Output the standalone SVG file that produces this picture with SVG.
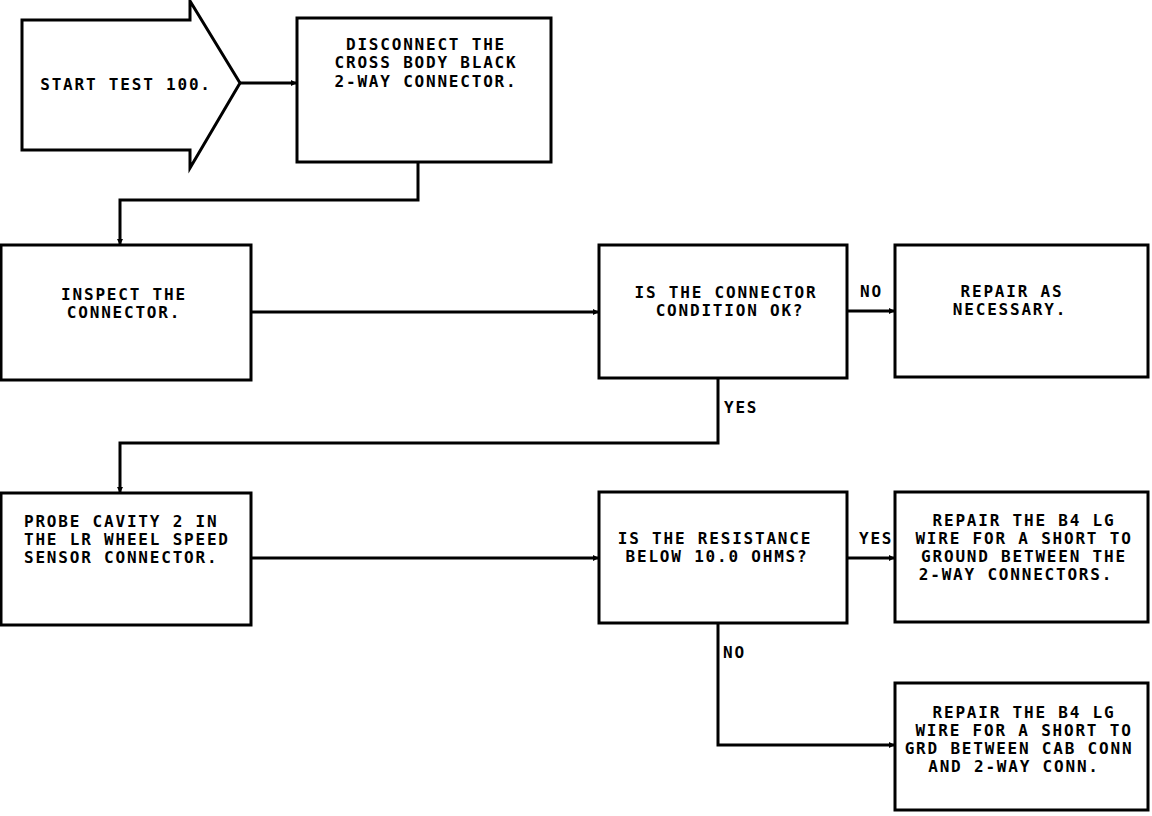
<svg xmlns="http://www.w3.org/2000/svg" width="1152" height="816" viewBox="0 0 1152 816">
<style>
.box{fill:#fff;stroke:#000;stroke-width:3}
.ln{fill:none;stroke:#000;stroke-width:3;stroke-linejoin:miter}
text{font-family:"DejaVu Sans Mono","Liberation Mono",monospace;font-size:16px;font-weight:bold;letter-spacing:1.8px;fill:#000}
.c{text-anchor:middle}
</style>
<defs>
<marker id="ah" markerWidth="6" markerHeight="6" refX="6" refY="3" orient="auto" markerUnits="userSpaceOnUse">
<path d="M0,0 L6,3 L0,6 Z" fill="#000"/>
</marker>
</defs>
<rect width="1152" height="816" fill="#fff"/>
<g id="connectors">
<path class="ln" d="M240,83 H297" marker-end="url(#ah)"/>
<path class="ln" d="M418,162 V200 H120 V245" marker-end="url(#ah)"/>
<path class="ln" d="M251,312 H599" marker-end="url(#ah)"/>
<path class="ln" d="M847,311 H895" marker-end="url(#ah)"/>
<path class="ln" d="M718,378 V443 H120 V493" marker-end="url(#ah)"/>
<path class="ln" d="M251,558 H599" marker-end="url(#ah)"/>
<path class="ln" d="M847,558 H895" marker-end="url(#ah)"/>
<path class="ln" d="M718,623 V745 H895" marker-end="url(#ah)"/>
<text x="860" y="297">NO</text>
<text x="724" y="413">YES</text>
<text x="859" y="544">YES</text>
<text x="723" y="658">NO</text>
</g>
<g id="start">
<path class="box" d="M22,20 H190 V1 L240,83 L190,168 V150 H22 Z"/>
<text class="c" x="126" y="90" letter-spacing="0.9">START TEST 100.</text>
</g>
<g id="disconnect">
<rect class="box" x="297" y="18" width="254" height="144"/>
<text class="c" x="426" y="50">DISCONNECT THE</text>
<text class="c" x="426" y="68">CROSS BODY BLACK</text>
<text class="c" x="426" y="87">2-WAY CONNECTOR.</text>
</g>
<g id="inspect">
<rect class="box" x="1" y="245" width="250" height="135"/>
<text class="c" x="124" y="300">INSPECT THE</text>
<text class="c" x="124" y="318">CONNECTOR.</text>
</g>
<g id="condition">
<rect class="box" x="599" y="245" width="248" height="133"/>
<text class="c" x="726" y="298">IS THE CONNECTOR</text>
<text class="c" x="730" y="316">CONDITION OK?</text>
</g>
<g id="repair-necessary">
<rect class="box" x="895" y="245" width="253" height="132"/>
<text class="c" x="1012" y="297">REPAIR AS</text>
<text class="c" x="1010" y="315">NECESSARY.</text>
</g>
<g id="probe">
<rect class="box" x="1" y="493" width="250" height="132"/>
<text x="24" y="527">PROBE CAVITY 2 IN</text>
<text x="24" y="545">THE LR WHEEL SPEED</text>
<text x="24" y="563">SENSOR CONNECTOR.</text>
</g>
<g id="resistance">
<rect class="box" x="599" y="492" width="248" height="131"/>
<text class="c" x="715" y="544">IS THE RESISTANCE</text>
<text class="c" x="717" y="562">BELOW 10.0 OHMS?</text>
</g>
<g id="repair-short-2way">
<rect class="box" x="895" y="492" width="253" height="130"/>
<text class="c" x="1024" y="526">REPAIR THE B4 LG</text>
<text class="c" x="1024" y="544">WIRE FOR A SHORT TO</text>
<text class="c" x="1024" y="562">GROUND BETWEEN THE</text>
<text class="c" x="1016" y="580">2-WAY CONNECTORS.</text>
</g>
<g id="repair-short-cab">
<rect class="box" x="895" y="683" width="253" height="127"/>
<text class="c" x="1024" y="718">REPAIR THE B4 LG</text>
<text class="c" x="1024" y="736">WIRE FOR A SHORT TO</text>
<text class="c" x="1019" y="754">GRD BETWEEN CAB CONN</text>
<text class="c" x="1014" y="772">AND 2-WAY CONN.</text>
</g>
</svg>
